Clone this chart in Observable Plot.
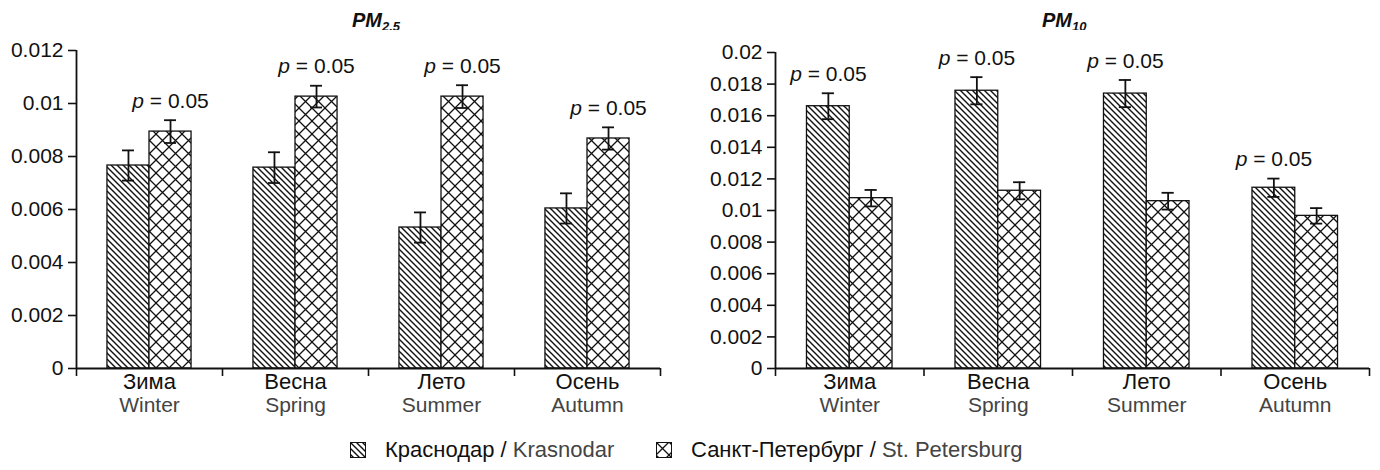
<!DOCTYPE html>
<html>
<head>
<meta charset="utf-8">
<script src="https://cdn.jsdelivr.net/npm/d3@7"></script>
<script src="https://cdn.jsdelivr.net/npm/@observablehq/plot@0.6"></script>
<style>
  html, body { margin: 0; padding: 0; background: #fff; }
  #root { position: relative; width: 1380px; height: 470px; background: #fff; font-family: "Liberation Sans", Arial, sans-serif; color: #111; }
  .title { position: absolute; top: 8px; font-size: 20px; line-height: 24px; font-weight: bold; font-style: italic; }
  .title .sub { font-size: 13px; position: relative; top: 4px; }
  .chart { position: absolute; top: 30px; }
  .legend-item { position: absolute; top: 439px; height: 22px; display: flex; align-items: center; font-size: 22px; white-space: nowrap; }
  .legend-item svg { margin-right: 19px; }
  .en { color: #444; }
</style>
</head>
<body>
<svg width="0" height="0" style="position:absolute">
  <defs>
    <pattern id="hatchKr" patternUnits="userSpaceOnUse" width="6" height="6">
      <rect width="6" height="6" fill="#fff"/>
      <path d="M-1,-1L7,7M-1,5L1,7M5,-1L7,1" stroke="#111" stroke-width="1.4"/>
    </pattern>
    <pattern id="hatchSpb" patternUnits="userSpaceOnUse" width="13" height="13">
      <rect width="13" height="13" fill="#fff"/>
      <path d="M-1,-1L14,14M14,-1L-1,14" stroke="#111" stroke-width="1.3"/>
    </pattern>
  </defs>
</svg>
<div id="root">
  <div class="title" style="left:352px">PM<span class="sub">2.5</span></div>
  <div class="title" style="left:1042px">PM<span class="sub">10</span></div>
  <div id="left" class="chart" style="left:0px"></div>
  <div id="right" class="chart" style="left:690px"></div>
  <div id="legend"></div>
</div>
<script>
// ---- Data ----
const seasonsRu = ["Зима", "Весна", "Лето", "Осень"];
const seasonsEn = ["Winter", "Spring", "Summer", "Autumn"];
const citiesRu = ["Краснодар", "Санкт-Петербург"];
const citiesEn = ["Krasnodar", "St. Petersburg"];

const pm25Krasnodar = [0.00766, 0.00758, 0.00532, 0.00604];
const pm25KrasnodarErr = [0.00057, 0.00058, 0.00057, 0.00057];
const pm25Petersburg = [0.00894, 0.01026, 0.01026, 0.00868];
const pm25PetersburgErr = [0.00043, 0.00041, 0.00043, 0.00042];

const pm10Krasnodar = [0.0166, 0.01758, 0.0174, 0.01144];
const pm10KrasnodarErr = [0.00082, 0.00086, 0.00086, 0.00058];
const pm10Petersburg = [0.01078, 0.01125, 0.01059, 0.00966];
const pm10PetersburgErr = [0.00052, 0.00054, 0.00053, 0.00049];

const pValue = 0.05;
const pm25Ticks = [0, 0.002, 0.004, 0.006, 0.008, 0.01, 0.012];
const pm10Ticks = [0, 0.002, 0.004, 0.006, 0.008, 0.01, 0.012, 0.014, 0.016, 0.018, 0.02];

const patterns = ["url(#hatchKr)", "url(#hatchSpb)"];
const FONT = '"Liberation Sans", Arial, sans-serif';

function makeChart({kr, krErr, spb, spbErr, ticks, width, marginLeft, marginRight, marginTop, frameH}) {
  const barFrac = 0.288;
  const capHalf = 0.041;
  const rows = [];
  seasonsRu.forEach((s, i) => {
    [[kr, krErr], [spb, spbErr]].forEach(([vals, errs], c) => {
      const x1 = c === 0 ? i + 0.5 - barFrac : i + 0.5;
      rows.push({i, c, v: vals[i], e: errs[i], x1, x2: x1 + barFrac, xc: x1 + barFrac / 2});
    });
  });
  // p-label goes over the taller bar in each season
  const pRows = seasonsRu.map((s, i) => {
    const pair = rows.filter(r => r.i === i);
    return pair.reduce((a, b) => (b.v > a.v ? b : a));
  });
  const marginBottom = 72;
  const fmt = d => String(+d.toFixed(3));
  return Plot.plot({
    width,
    height: marginTop + frameH + marginBottom,
    marginLeft, marginRight, marginTop, marginBottom,
    style: {fontFamily: FONT, fontSize: "21px", color: "#111", background: "#fff", overflow: "visible"},
    x: {domain: [0, 4]},
    y: {domain: [0, ticks[ticks.length - 1]]},
    marks: [
      ...[0, 1].map(c => Plot.rectY(rows.filter(r => r.c === c), {
        x1: "x1", x2: "x2", y1: 0, y2: "v",
        fill: patterns[c], stroke: "#111", strokeWidth: 1.3
      })),
      Plot.ruleX(rows, {x: "xc", y1: d => d.v - d.e, y2: d => d.v + d.e, stroke: "#111", strokeWidth: 1.8}),
      Plot.ruleY(rows, {y: d => d.v - d.e, x1: d => d.xc - capHalf, x2: d => d.xc + capHalf, stroke: "#111", strokeWidth: 1.8}),
      Plot.ruleY(rows, {y: d => d.v + d.e, x1: d => d.xc - capHalf, x2: d => d.xc + capHalf, stroke: "#111", strokeWidth: 1.8}),
      Plot.text(pRows, {x: "xc", y: d => d.v + d.e, text: () => "p", dy: -19, dx: -26.5, textAnchor: "end", fontStyle: "italic", fontSize: 21, fill: "#111"}),
      Plot.text(pRows, {x: "xc", y: d => d.v + d.e, text: () => "= " + pValue, dy: -19, dx: -20.7, textAnchor: "start", fontSize: 21, fill: "#111"}),
      Plot.axisY({ticks, tickFormat: fmt, tickSize: 8, tickPadding: 5, fontSize: 21, stroke: "#111", strokeWidth: 1.6, fill: "#111", label: null}),
      Plot.axisX({ticks: [0, 1, 2, 3, 4], tickFormat: () => "", tickSize: 8, stroke: "#111", strokeWidth: 1.6, label: null}),
      Plot.ruleX([0], {y1: 0, y2: ticks[ticks.length - 1], stroke: "#111", strokeWidth: 1.8}),
      Plot.ruleY([0], {stroke: "#111", strokeWidth: 1.8}),
      Plot.text(seasonsRu, {x: (d, i) => i + 0.5, text: d => d, frameAnchor: "bottom", dy: 20, fontSize: 22, fill: "#111"}),
      Plot.text(seasonsEn, {x: (d, i) => i + 0.5, text: d => d, frameAnchor: "bottom", dy: 43, fontSize: 21, fill: "#444"})
    ]
  });
}

document.getElementById("left").appendChild(makeChart({
  kr: pm25Krasnodar, krErr: pm25KrasnodarErr, spb: pm25Petersburg, spbErr: pm25PetersburgErr,
  ticks: pm25Ticks, width: 690, marginLeft: 76, marginRight: 30, marginTop: 20, frameH: 318
}));
document.getElementById("right").appendChild(makeChart({
  kr: pm10Krasnodar, krErr: pm10KrasnodarErr, spb: pm10Petersburg, spbErr: pm10PetersburgErr,
  ticks: pm10Ticks, width: 690, marginLeft: 85, marginRight: 11, marginTop: 22, frameH: 316
}));

// Legend
const legend = document.getElementById("legend");
const legendLeft = [350, 656];
citiesRu.forEach((name, c) => {
  const item = document.createElement("div");
  item.className = "legend-item";
  item.style.left = legendLeft[c] + "px";
  item.innerHTML = `<svg width="16" height="16"><rect x="0.5" y="0.5" width="15" height="15" fill="${patterns[c]}" stroke="#111" stroke-width="1"/></svg>` +
    `<span>${name} /&nbsp;</span><span class="en">${citiesEn[c]}</span>`;
  legend.appendChild(item);
});
</script>
</body>
</html>
